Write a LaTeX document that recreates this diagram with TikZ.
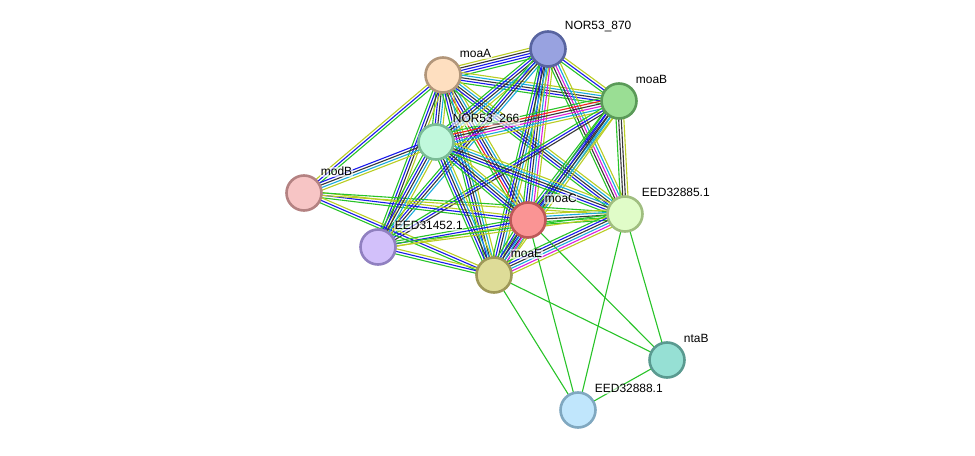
\documentclass[tikz,border=0pt]{standalone}
\usepackage{fontspec}
\setmainfont{Liberation Sans}
\usepackage{tikz}
\usetikzlibrary{backgrounds}
\usetikzlibrary{calc}

\definecolor{evgreen}{RGB}{40,195,40}
\definecolor{evblue}{RGB}{25,25,235}
\definecolor{evblack}{RGB}{55,55,55}
\definecolor{evcyan}{RGB}{25,170,220}
\definecolor{evyellow}{RGB}{185,205,35}
\definecolor{evmagenta}{RGB}{220,30,220}
\definecolor{evred}{RGB}{240,30,30}

% multi evidence edge: from, to, colour list
\newcommand{\evlink}[3]{%
  \xdef\nlines{0}%
  \foreach \c in {#3}{\xdef\nlines{\the\numexpr\nlines+1\relax}}%
  \foreach \c [count=\i] in {#3}{%
    \pgfmathsetmacro\off{(\i-(\nlines+1)/2)*2.6}
    \draw[evline, ev\c] ($(#1.center)!\off bp!90:(#2.center)$) -- ($(#2.center)!\off bp!-90:(#1.center)$);
  }%
}

\begin{document}
\begin{tikzpicture}[x=1bp, y=-1bp,
  prot/.style={circle, draw, line width=2.6bp, minimum size=35bp, inner sep=0pt},
  evline/.style={line width=1.1bp},
  lbl/.style={font=\fontsize{12}{14}\selectfont, inner sep=0.6bp, fill=white, fill opacity=0.6, text opacity=1},
  every label/.style={lbl}, label distance=4bp]
\useasboundingbox (0,0) rectangle (975,456);

% proteins
\node[prot, fill={rgb,255:red,254;green,223;blue,192}, draw={rgb,255:red,178;green,150;blue,122}, label={45:moaA}] (moaA) at (443,75) {};
\node[prot, fill={rgb,255:red,152;green,162;blue,224}, draw={rgb,255:red,88;green,100;blue,160}, label={45:NOR53\_870}] (nor870) at (548,49) {};
\node[prot, fill={rgb,255:red,154;green,222;blue,148}, draw={rgb,255:red,90;green,154;blue,88}, label={45:moaB}] (moaB) at (619,101) {};
\node[prot, fill={rgb,255:red,192;green,248;blue,220}, draw={rgb,255:red,122;green,188;blue,150}, label={45:NOR53\_266}] (nor266) at (436,142) {};
\node[prot, fill={rgb,255:red,247;green,197;blue,197}, draw={rgb,255:red,180;green,130;blue,130}, label={45:modB}] (modB) at (304,193) {};
\node[prot, fill={rgb,255:red,250;green,148;blue,148}, draw={rgb,255:red,190;green,88;blue,88}, label={45:moaC}] (moaC) at (528,220) {};
\node[prot, fill={rgb,255:red,224;green,252;blue,200}, draw={rgb,255:red,160;green,190;blue,128}, label={45:EED32885.1}] (eed885) at (625,214) {};
\node[prot, fill={rgb,255:red,210;green,192;blue,250}, draw={rgb,255:red,144;green,128;blue,192}, label={45:EED31452.1}] (eed452) at (378,247) {};
\node[prot, fill={rgb,255:red,222;green,220;blue,152}, draw={rgb,255:red,158;green,152;blue,88}, label={45:moaE}] (moaE) at (494,275) {};
\node[prot, fill={rgb,255:red,150;green,224;blue,212}, draw={rgb,255:red,90;green,154;blue,144}, label={45:ntaB}] (ntaB) at (667,360) {};
\node[prot, fill={rgb,255:red,192;green,230;blue,252}, draw={rgb,255:red,128;green,168;blue,192}, label={45:EED32888.1}] (eed888) at (578,410) {};

% evidence lines
\begin{scope}[on background layer]
\evlink{moaA}{nor870}{green,blue,blue,black,yellow}
\evlink{moaA}{moaB}{green,blue,black,cyan,yellow}
\evlink{moaA}{nor266}{green,blue,black,cyan,yellow}
\evlink{moaA}{modB}{yellow,blue,green}
\evlink{moaA}{moaC}{green,red,blue,black,cyan,yellow}
\evlink{moaA}{eed885}{green,blue,black,cyan,yellow}
\evlink{moaA}{eed452}{green,blue,black,yellow}
\evlink{moaA}{moaE}{green,blue,black,cyan,yellow}
\evlink{nor870}{moaB}{green,blue,yellow}
\evlink{nor870}{nor266}{green,blue,black,cyan,yellow}
\evlink{nor870}{moaC}{green,blue,black,cyan,magenta,yellow}
\evlink{nor870}{eed885}{green,black,magenta,cyan,yellow}
\evlink{nor870}{eed452}{green,blue,black,cyan}
\evlink{nor870}{moaE}{green,blue,black,cyan,yellow}
\evlink{moaB}{nor266}{green,red,black,magenta,cyan,yellow}
\evlink{moaB}{eed885}{green,black,black,yellow}
\evlink{moaB}{moaC}{green,blue,black,cyan,yellow}
\evlink{moaB}{eed452}{green,blue,black}
\evlink{moaB}{moaE}{green,blue,black,cyan,yellow}
\evlink{modB}{nor266}{yellow,cyan,black,blue}
\evlink{modB}{moaC}{green,blue,yellow}
\evlink{modB}{moaE}{green,blue,yellow}
\evlink{modB}{eed885}{yellow,green}
\evlink{nor266}{moaC}{green,blue,black,cyan,yellow}
\evlink{nor266}{eed885}{green,blue,black,cyan,yellow}
\evlink{nor266}{eed452}{green,blue,black,cyan,yellow}
\evlink{nor266}{moaE}{green,blue,black,cyan,yellow}
\evlink{moaC}{eed885}{green,green,black,cyan,yellow}
\evlink{moaC}{eed452}{green,blue,yellow}
\evlink{moaC}{moaE}{green,blue,black,cyan,magenta,yellow}
\evlink{eed885}{eed452}{green,yellow}
\evlink{eed885}{moaE}{green,blue,black,cyan,magenta,yellow}
\evlink{eed452}{moaE}{green,blue,yellow}
\evlink{moaE}{eed888}{green}
\evlink{moaE}{ntaB}{green}
\evlink{moaC}{eed888}{green}
\evlink{moaC}{ntaB}{green}
\evlink{eed885}{eed888}{green}
\evlink{eed885}{ntaB}{green}
\evlink{ntaB}{eed888}{green}
\end{scope}
\end{tikzpicture}
\end{document}
